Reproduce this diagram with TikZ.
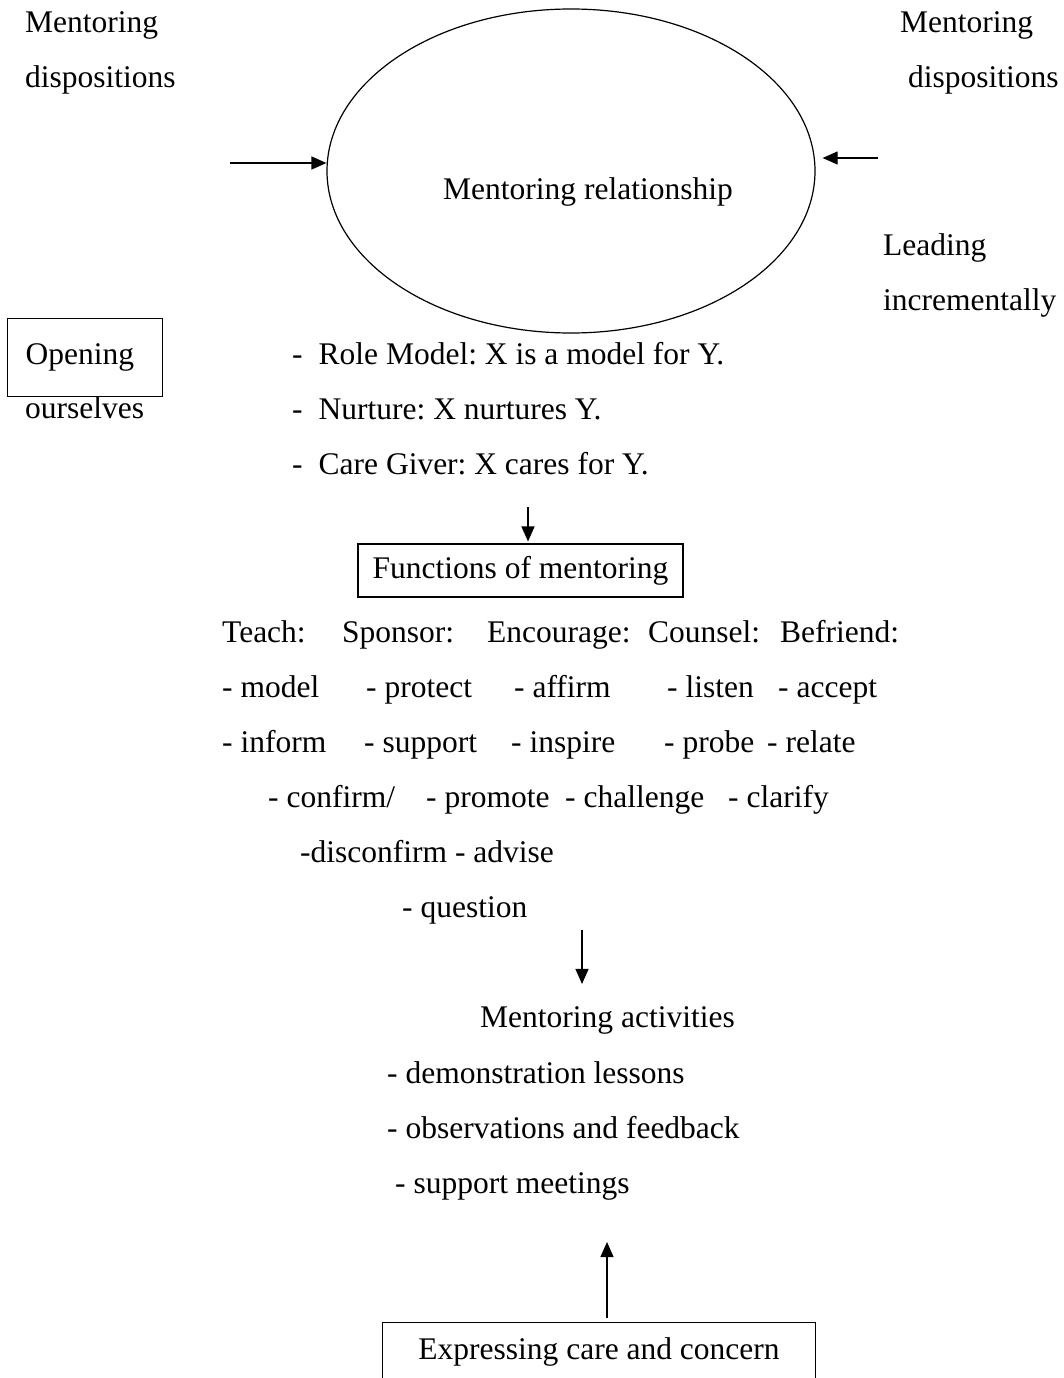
\documentclass[tikz,border=0pt]{standalone}
\usepackage{fontspec}
\setmainfont{Liberation Serif}
\usetikzlibrary{arrows.meta,positioning,shapes.geometric}
\frenchspacing

\begin{document}
\begin{tikzpicture}[x=1pt, y=-1pt, font=\fontsize{31.5}{55}\selectfont,
  txt/.style={anchor=base west, inner sep=0pt, align=left},
  framebox/.style={draw, line width=1.1pt, inner sep=0pt},
  arr/.style={-{Triangle[length=15pt,width=13pt]}, line width=1.2pt}]
  \useasboundingbox (0,0) rectangle (1063,1378);
  % relationship and the two sides
  \node[ellipse, draw, line width=1.2pt, minimum width=488pt, minimum height=324pt, inner sep=0pt] (rel) at (571,171) {};
  \node[txt] (reltxt) at (443,199) {Mentoring relationship};
  \node[txt] (dispL) at (25,88) {Mentoring\\dispositions};
  \node[txt] (dispR) at (900,88) {Mentoring\\\hspace*{8pt}dispositions};
  \node[txt] (lead) at (883,310) {Leading\\incrementally};
  \coordinate (inL) at (230,163); \coordinate (inR) at (878,158);
  \draw[arr] (inL) -- (inL -| rel.west); \draw[arr, shorten >=7pt] (inR) -- (inR -| rel.east);
  \node[framebox, anchor=north west, minimum width=155pt, minimum height=78pt, text width=119pt, align=left] (open) at (7,318) {Opening};
  \node[txt] (ourselves) at (25,418) {ourselves};
  \node[txt] (roles) at (292,474) {-\hspace{16pt}Role Model: X is a model for Y.\\-\hspace{16pt}Nurture: X nurtures Y.\\-\hspace{16pt}Care Giver: X cares for Y.};
  % functions
  \node[framebox, minimum width=325pt, minimum height=53pt] (func) at (520.5,570.5) {Functions of mentoring};
  \coordinate (f0) at (528,507);
  \draw[arr, shorten >=2pt] (f0) -- (f0 |- func.north);
  \node[txt] (teach) at (222,642) {Teach:};
  \node[txt] (sponsor) at (342,642) {Sponsor:};
  \node[txt] (encourage) at (487,642) {Encourage:};
  \node[txt] (counsel) at (648,642) {Counsel:};
  \node[txt] (befriend) at (780,642) {Befriend:};
  \node[txt] (model) at (222,697) {- model};
  \node[txt] (protect) at (366,697) {- protect};
  \node[txt] (affirm) at (514,697) {- affirm};
  \node[txt] (listen) at (667,697) {- listen};
  \node[txt] (accept) at (778,697) {- accept};
  \node[txt] (inform) at (222,752) {- inform};
  \node[txt] (support) at (364,752) {- support};
  \node[txt] (inspire) at (511,752) {- inspire};
  \node[txt] (probe) at (664,752) {- probe};
  \node[txt] (relate) at (767,752) {- relate};
  \node[txt] (confirm) at (268,807) {- confirm/};
  \node[txt] (promote) at (426,807) {- promote};
  \node[txt] (challenge) at (565,807) {- challenge};
  \node[txt] (clarify) at (728,807) {- clarify};
  \node[txt] (disconf) at (300,862) {-disconfirm - advise};
  \node[txt] (question) at (402,917) {- question};
  % activities
  \node[txt] (acts) at (480,1027) {Mentoring activities};
  \node[txt] (actlist) at (387,1193) {- demonstration lessons\\- observations and feedback\\\hspace*{8pt}- support meetings};
  \coordinate (q0) at (582,930);
  \draw[arr, shorten >=22pt] (q0) -- (q0 |- acts.north);
  \node[framebox, anchor=north west, minimum width=433pt, minimum height=58pt] (care) at (382,1322) {Expressing care and concern};
  \coordinate (c0) at (607,1242);
  \draw[arr, shorten <=4pt] (c0 |- care.north) -- (c0);
\end{tikzpicture}
\end{document}
